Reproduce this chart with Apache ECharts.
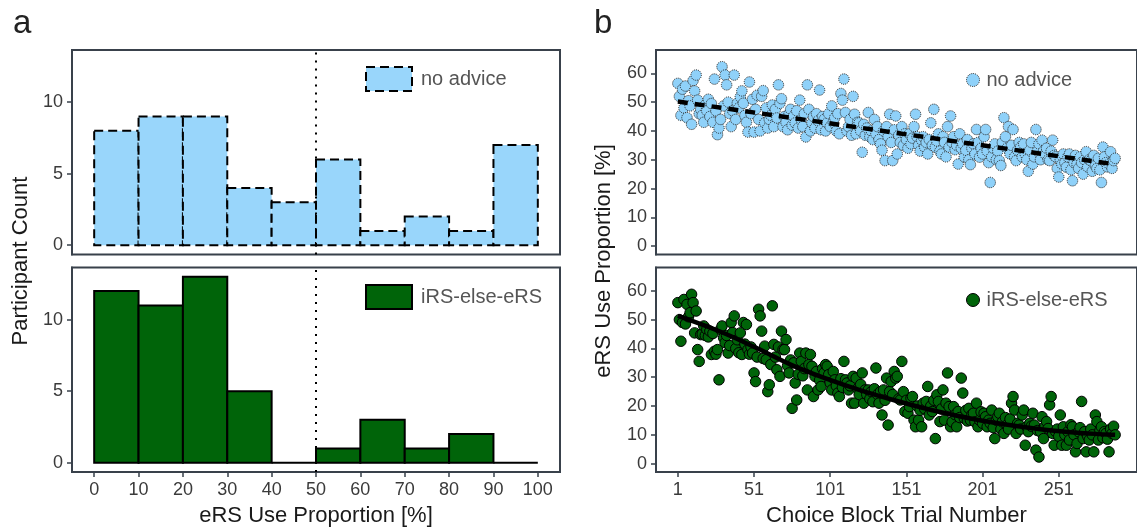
<html>
<head>
<meta charset="UTF-8" />
<title>eRS use</title>
<style>
  html, body { margin: 0; padding: 0; background: #fff; }
</style>
</head>
<body>
<div id="main" style="width: 1137px;height:529px;"></div>
<script type="text/javascript" src="https://cdn.jsdelivr.net/npm/echarts@6/dist/echarts.min.js"></script>
<script type="text/javascript">

// histogram bins (left edge of each 10% bin) and counts
var binStarts = [0, 10, 20, 30, 40, 50, 60, 70, 80, 90];
var countsNoAdvice = [8, 9, 9, 4, 3, 6, 1, 2, 1, 7];
var countsIrs = [12, 11, 13, 5, 0, 1, 3, 1, 2, 0];

// tick labels
var pctTicks = [0, 10, 20, 30, 40, 50, 60, 70, 80, 90, 100];
var countTicks = [0, 5, 10];
var trialTicks = [1, 51, 101, 151, 201, 251];
var propTicks = [0, 10, 20, 30, 40, 50, 60];

// eRS use proportion per choice block trial (trial 1..288)
var noAdviceProp = [
  56.5, 52.0, 45.4, 54.5, 48.0, 55.6, 44.6, 50.5, 48.7, 42.3,
  57.5, 53.9, 59.4, 50.7, 46.0, 47.5, 45.4, 43.0, 49.0, 47.0,
  51.0, 45.0, 49.5, 43.0, 58.0, 47.0, 38.7, 41.0, 44.0, 62.3,
  48.7, 59.4, 56.0, 50.0, 46.0, 41.5, 47.0, 59.4, 44.0, 49.6,
  48.0, 51.8, 53.9, 49.6, 45.4, 43.0, 39.6, 57.0, 46.0, 51.0,
  39.6, 47.5, 52.4, 44.0, 40.0, 52.0, 54.0, 42.8, 48.0, 41.0,
  44.0, 45.4, 49.0, 41.5, 47.5, 44.5, 56.0, 49.6, 51.2, 41.5,
  45.0, 43.0, 40.4, 46.0, 47.5, 42.0, 45.2, 42.8, 47.0, 41.0,
  50.7, 44.0, 41.5, 46.0, 37.9, 56.0, 47.5, 40.0, 42.8, 45.0,
  41.0, 46.0, 43.5, 54.2, 40.4, 45.0, 44.0, 40.0, 42.8, 46.0,
  41.5, 48.7, 43.0, 44.6, 40.0, 46.0, 39.0, 53.0, 50.7, 58.0,
  46.4, 40.0, 41.5, 44.0, 38.5, 52.0, 45.8, 39.0, 43.0, 42.8,
  40.0, 32.6, 42.3, 38.5, 41.0, 46.4, 38.0, 40.0, 37.0, 44.0,
  39.0, 41.5, 37.0, 35.5, 33.3, 40.0, 29.7, 41.5, 38.0, 45.8,
  36.0, 29.7, 40.4, 45.2, 32.0, 38.5, 36.0, 41.5, 35.0, 39.0,
  37.0, 34.0, 39.0, 35.5, 37.5, 41.5, 45.8, 38.0, 35.0, 33.0,
  36.8, 38.0, 34.4, 36.0, 32.0, 37.0, 42.8, 35.0, 47.5, 34.4,
  36.5, 39.0, 33.0, 32.0, 38.0, 36.0, 31.0, 41.5, 34.4, 45.2,
  36.0, 38.0, 33.5, 35.0, 28.5, 39.0, 34.0, 35.5, 31.0, 33.3,
  37.0, 30.0, 28.3, 34.0, 35.5, 32.0, 40.5, 36.0, 30.9, 34.0,
  32.0, 38.0, 40.5, 33.0, 29.0, 22.1, 31.0, 34.0, 35.5, 30.0,
  33.0, 29.7, 28.0, 36.0, 44.6, 38.0, 34.0, 41.5, 32.0, 35.0,
  40.5, 31.0, 29.7, 33.3, 36.0, 34.4, 31.0, 35.5, 32.0, 30.0,
  26.0, 33.3, 36.0, 28.5, 31.0, 40.5, 33.0, 35.5, 30.0, 36.8,
  33.0, 32.0, 34.0, 30.0, 29.7, 33.0, 36.8, 31.5, 31.0, 27.0,
  24.0, 30.0, 28.5, 32.0, 29.0, 27.4, 31.0, 32.0, 26.5, 22.7,
  29.0, 31.5, 28.5, 27.0, 31.0, 29.0, 25.0, 30.0, 32.8, 27.5,
  30.0, 29.7, 26.0, 31.5, 28.0, 27.0, 30.5, 26.5, 22.1, 34.4,
  31.0, 29.0, 27.5, 28.5, 32.8, 27.0, 29.7, 30.5
];

var irsProp = [
  55.9, 50.0, 42.5, 49.0, 57.0, 48.5, 55.3, 51.0, 52.4, 58.8,
  55.9, 45.4, 53.0, 39.6, 35.5, 44.8, 45.0, 47.8, 44.5, 46.6,
  44.0, 46.0, 37.9, 45.2, 39.0, 38.0, 39.6, 29.1, 46.6, 47.8,
  43.7, 42.0, 44.5, 38.4, 41.0, 49.0, 45.5, 51.3, 40.0, 43.0,
  38.5, 45.4, 37.9, 49.0, 41.5, 48.3, 39.6, 38.0, 40.5, 38.4,
  31.5, 28.5, 37.0, 53.6, 51.3, 46.0, 36.5, 40.8, 36.1, 25.0,
  27.4, 34.4, 54.8, 41.4, 37.0, 32.6, 40.5, 30.3, 46.0, 39.6,
  39.6, 43.1, 34.0, 31.5, 36.0, 19.2, 35.0, 28.0, 22.1, 31.0,
  38.4, 35.5, 30.5, 33.0, 38.4, 25.6, 34.4, 37.9, 33.8, 23.3,
  30.3, 32.0, 25.6, 29.0, 26.8, 33.0, 31.5, 34.4, 33.8, 30.9,
  28.0, 25.6, 32.0, 29.1, 27.0, 24.5, 23.3, 29.5, 26.5, 35.5,
  29.1, 28.0, 25.6, 27.0, 21.0, 30.3, 21.0, 29.7, 26.0, 24.0,
  27.5, 31.5, 21.0, 25.6, 24.0, 25.6, 22.5, 25.0, 21.5, 26.0,
  33.2, 24.0, 21.0, 25.0, 16.9, 25.6, 22.0, 29.7, 13.4, 25.0,
  28.5, 24.0, 32.0, 29.7, 30.3, 22.5, 22.1, 35.5, 25.0, 18.1,
  22.0, 17.5, 19.8, 22.7, 23.3, 15.1, 12.8, 20.0, 15.1, 18.5,
  12.8, 21.0, 19.0, 21.6, 26.8, 16.9, 20.0, 18.1, 22.0, 8.7,
  23.9, 21.6, 14.6, 19.0, 25.6, 15.1, 21.0, 31.5, 19.8, 12.8,
  14.5, 19.8, 17.0, 12.8, 18.1, 16.0, 29.7, 24.5, 15.7, 18.5,
  14.8, 19.2, 15.1, 17.0, 17.5, 14.5, 21.0, 12.8, 15.1, 18.0,
  14.0, 17.5, 16.3, 12.8, 15.1, 14.0, 18.6, 12.5, 8.7, 15.1,
  16.3, 17.5, 12.0, 14.5, 10.5, 16.0, 13.4, 12.0, 15.5, 21.0,
  23.3, 18.6, 10.5, 14.0, 13.4, 12.0, 16.9, 18.6, 6.4, 12.8,
  11.1, 14.0, 13.0, 17.5, 13.4, 4.7, 11.5, 2.3, 11.1, 16.3,
  8.7, 13.0, 14.6, 12.2, 20.4, 23.3, 10.5, 6.4, 11.1, 12.0,
  9.5, 16.9, 6.4, 12.8, 10.0, 6.4, 11.1, 8.2, 13.5, 12.8,
  10.0, 4.1, 7.0, 11.1, 12.5, 21.6, 8.7, 11.1, 4.1, 9.5,
  8.2, 12.0, 10.0, 4.1, 16.9, 14.6, 8.2, 11.5, 12.8, 9.0,
  11.1, 10.5, 8.5, 4.1, 12.0, 10.5, 13.0, 10.0
];

// fitted trend lines
var noAdviceTrendX = [1, 288];
var noAdviceTrendY = [50.2, 28.4];
var irsTrendX = [1, 29, 52, 75, 98, 120, 143, 166, 188, 211, 234, 257, 283, 288];
var irsTrendY = [51.3, 45.8, 40.3, 34.4, 29.6, 25.6, 22.0, 18.8, 16.2, 14.0, 12.3, 11.0, 10.1, 10.0];

var blueFill = '#99d6fb';
var bluePoint = '#8fd1f9';
var greenFill = '#006409';
var frame = '#39414b';
var tickText = '#3a3a3a';
var font = 'Liberation Sans, Arial, sans-serif';

function pairs(xs, ys) {
    var out = [];
    for (var i = 0; i < xs.length; i++) out.push([xs[i], ys[i]]);
    return out;
}
function trialPairs(vals) {
    var out = [];
    for (var i = 0; i < vals.length; i++) out.push([i + 1, vals[i]]);
    return out;
}

function histRender(fill, dash) {
    return function (params, api) {
        var x0 = api.value(0);
        var c = api.value(1);
        var w = binStarts[1] - binStarts[0];
        var p0 = api.coord([x0, c]);
        var p1 = api.coord([x0 + w, 0]);
        return {
            type: 'rect',
            shape: { x: p0[0], y: p0[1], width: p1[0] - p0[0], height: p1[1] - p0[1] },
            style: { fill: fill, stroke: '#000', lineWidth: 2, lineDash: dash }
        };
    };
}

var myChart = echarts.init(document.getElementById('main'));

function xAx(idx, min, max, ticks, showLabels, name) {
    return {
        type: 'value', gridIndex: idx, min: min, max: max,
        splitLine: { show: false },
        axisLine: { show: showLabels, onZero: false, lineStyle: { color: frame, width: 2 } },
        axisTick: { show: showLabels, length: 5, customValues: ticks, lineStyle: { color: frame, width: 1.5 } },
        axisLabel: { show: showLabels, customValues: ticks, margin: 9, color: tickText, fontSize: 18, fontFamily: font },
        name: name || '', nameLocation: 'middle', nameGap: 33,
        nameTextStyle: { color: '#1a1a1a', fontSize: 22, fontFamily: font }
    };
}
function yAx(idx, min, max, ticks) {
    return {
        type: 'value', gridIndex: idx, min: min, max: max,
        splitLine: { show: false },
        axisLine: { show: true, onZero: false, lineStyle: { color: frame, width: 2 } },
        axisTick: { show: true, length: 5, customValues: ticks, lineStyle: { color: frame, width: 1.5 } },
        axisLabel: { customValues: ticks, margin: 9, color: tickText, fontSize: 18, fontFamily: font }
    };
}

var gridStyle = { show: true, borderColor: frame, borderWidth: 2, backgroundColor: '#fff' };
var legendText = { color: '#555', fontSize: 20, fontFamily: font };

var option = {
    animation: false,
    grid: [
        Object.assign({ left: 72, top: 50, width: 488, height: 204.5 }, gridStyle),
        Object.assign({ left: 72, top: 267.5, width: 488, height: 204.5 }, gridStyle),
        Object.assign({ left: 656, top: 50, width: 488, height: 204.5 }, gridStyle),
        Object.assign({ left: 656, top: 267.5, width: 488, height: 204.5 }, gridStyle)
    ],
    xAxis: [
        xAx(0, -5, 105, pctTicks, false),
        xAx(1, -5, 105, pctTicks, true, 'eRS Use Proportion [%]'),
        xAx(2, -13.35, 302.35, trialTicks, false),
        xAx(3, -13.35, 302.35, trialTicks, true, 'Choice Block Trial Number')
    ],
    yAxis: [
        yAx(0, -0.65, 13.65, countTicks),
        yAx(1, -0.65, 13.65, countTicks),
        yAx(2, -2.9, 68.1, propTicks),
        yAx(3, -2.9, 68.1, propTicks)
    ],
    legend: [
        {
            left: 360, top: 61, itemWidth: 46, itemHeight: 24, selectedMode: false,
            textStyle: Object.assign({ padding: [0, 0, 0, 4] }, legendText),
            data: [{ name: 'no advice', icon: 'rect',
                itemStyle: { color: blueFill, borderColor: '#000', borderWidth: 2, borderType: [9, 5] } }]
        },
        {
            left: 360, top: 279, itemWidth: 46, itemHeight: 24, selectedMode: false,
            textStyle: Object.assign({ padding: [0, 0, 0, 4] }, legendText),
            data: [{ name: 'iRS-else-eRS', icon: 'rect',
                itemStyle: { color: greenFill, borderColor: '#000', borderWidth: 2 } }]
        },
        {
            left: 961, top: 65, itemWidth: 13, itemHeight: 13, selectedMode: false,
            textStyle: Object.assign({ padding: [0, 0, 0, 2] }, legendText),
            data: [{ name: 'no advice', icon: 'circle',
                itemStyle: { color: bluePoint, borderColor: '#222', borderWidth: 1, borderType: 'dotted' } }]
        },
        {
            left: 961, top: 285, itemWidth: 13, itemHeight: 13, selectedMode: false,
            textStyle: Object.assign({ padding: [0, 0, 0, 2] }, legendText),
            data: [{ name: 'iRS-else-eRS', icon: 'circle',
                itemStyle: { color: greenFill, borderColor: '#000', borderWidth: 1 } }]
        }
    ],
    graphic: [
        { type: 'text', left: 13, top: 7, style: { text: 'a', fontSize: 33, fontFamily: font, fill: '#222' } },
        { type: 'text', left: 594, top: 7, style: { text: 'b', fontSize: 33, fontFamily: font, fill: '#222' } },
        { type: 'text', x: 21, y: 261, rotation: Math.PI / 2,
          style: { text: 'Participant Count', fontSize: 22, fontFamily: font, fill: '#1a1a1a', align: 'center', verticalAlign: 'middle' } },
        { type: 'text', x: 604, y: 261, rotation: Math.PI / 2,
          style: { text: 'eRS Use Proportion [%]', fontSize: 22, fontFamily: font, fill: '#1a1a1a', align: 'center', verticalAlign: 'middle' } }
    ],
    series: [
        {
            name: 'no advice', type: 'custom', xAxisIndex: 0, yAxisIndex: 0,
            itemStyle: { color: blueFill },
            renderItem: histRender(blueFill, [9, 5]),
            data: pairs(binStarts, countsNoAdvice),
            markLine: { silent: true, symbol: 'none', label: { show: false },
                lineStyle: { color: '#000', width: 2, type: [2, 6] }, data: [{ xAxis: 50 }] }
        },
        {
            name: 'iRS-else-eRS', type: 'custom', xAxisIndex: 1, yAxisIndex: 1,
            itemStyle: { color: greenFill },
            renderItem: histRender(greenFill, null),
            data: pairs(binStarts, countsIrs),
            markLine: { silent: true, symbol: 'none', label: { show: false },
                lineStyle: { color: '#000', width: 2, type: [2, 6] }, data: [{ xAxis: 50 }] }
        },
        {
            name: 'no advice', type: 'scatter', xAxisIndex: 2, yAxisIndex: 2,
            symbolSize: 10.5,
            itemStyle: { color: bluePoint, borderColor: '#222', borderWidth: 1, borderType: 'dotted', opacity: 1 },
            data: trialPairs(noAdviceProp)
        },
        {
            name: 'no advice trend', type: 'line', xAxisIndex: 2, yAxisIndex: 2,
            symbol: 'none', z: 5,
            lineStyle: { color: '#000', width: 4.5, type: [10, 7] },
            data: pairs(noAdviceTrendX, noAdviceTrendY)
        },
        {
            name: 'iRS-else-eRS', type: 'scatter', xAxisIndex: 3, yAxisIndex: 3,
            symbolSize: 10.5,
            itemStyle: { color: greenFill, borderColor: '#000', borderWidth: 1, opacity: 1 },
            data: trialPairs(irsProp)
        },
        {
            name: 'iRS trend', type: 'line', xAxisIndex: 3, yAxisIndex: 3,
            symbol: 'none', smooth: 0.4, z: 5,
            lineStyle: { color: '#000', width: 4.5 },
            data: pairs(irsTrendX, irsTrendY)
        }
    ]
};

myChart.setOption(option);
</script>
</body>
</html>
